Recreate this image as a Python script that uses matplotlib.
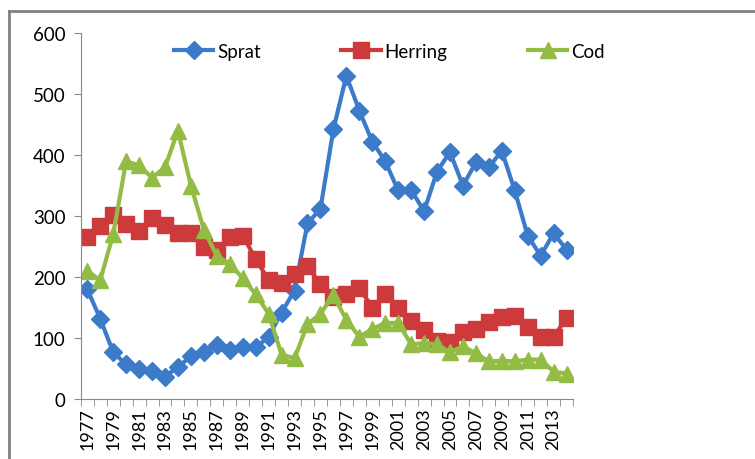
import numpy as np
import matplotlib.pyplot as plt
from matplotlib.lines import Line2D

years = list(range(1977, 2015))

sprat = [180, 132, 77, 57, 50, 47, 37, 53, 70, 77, 88, 80, 85, 85, 102, 142, 178,
         288, 312, 442, 530, 473, 422, 390, 342, 343, 308, 373, 405, 350, 388, 380,
         407, 342, 268, 235, 272, 245]
herring = [265, 283, 302, 287, 275, 297, 285, 272, 272, 250, 245, 265, 268, 230,
           195, 190, 205, 218, 188, 168, 172, 183, 150, 172, 150, 128, 113, 95, 93,
           110, 115, 126, 135, 137, 118, 102, 102, 133]
cod = [210, 195, 270, 390, 383, 363, 380, 440, 350, 278, 235, 222, 198, 172, 140,
       73, 67, 123, 140, 170, 130, 102, 115, 125, 125, 90, 92, 90, 77, 87, 75, 62,
       63, 62, 65, 65, 45, 42]

plt.rcParams['font.family'] = ['Lato', 'DejaVu Sans']

fig = plt.figure(figsize=(7.55, 4.6), dpi=100)
ax = fig.add_axes([0.107, 0.130, 0.652, 0.796])

x = np.arange(len(years))
ax.plot(x, sprat, color='#3B7BC9', lw=3, marker='D', ms=9, label='Sprat')
ax.plot(x, herring, color='#CD3A3B', lw=3, marker='s', ms=11, label='Herring')
ax.plot(x, cod, color='#93BC45', lw=3, marker='^', ms=12, label='Cod')

ax.set_xlim(-0.5, len(years) - 0.5)
ax.set_ylim(0, 600)
ax.set_yticks(range(0, 601, 100))
ax.set_xticks(x[::2])
ax.set_xticklabels([str(y) for y in years[::2]], rotation=90)
ax.set_xticks(np.arange(-0.5, len(years)), minor=True)
ax.tick_params(axis='x', which='major', length=0, pad=6, labelsize=13)
ax.tick_params(axis='x', which='minor', length=5, color='#888888')
ax.tick_params(axis='y', length=5, color='#888888', labelsize=13.5, pad=6)

for s in ['top', 'right']:
    ax.spines[s].set_visible(False)
for s in ['left', 'bottom']:
    ax.spines[s].set_color('#888888')

ax.legend(loc='upper center', bbox_to_anchor=(0.627, 1.02), ncol=3, frameon=False,
          fontsize=13.5, handlelength=2.1, columnspacing=4.3, handletextpad=0.2)

# outer frame of the pasted chart
fig.add_artist(Line2D([0.012, 0.012], [0, 0.974], color='#808080', lw=2))
fig.add_artist(Line2D([0.012, 1.0], [0.974, 0.974], color='#808080', lw=2))

fig.savefig('out.png', dpi=100)
